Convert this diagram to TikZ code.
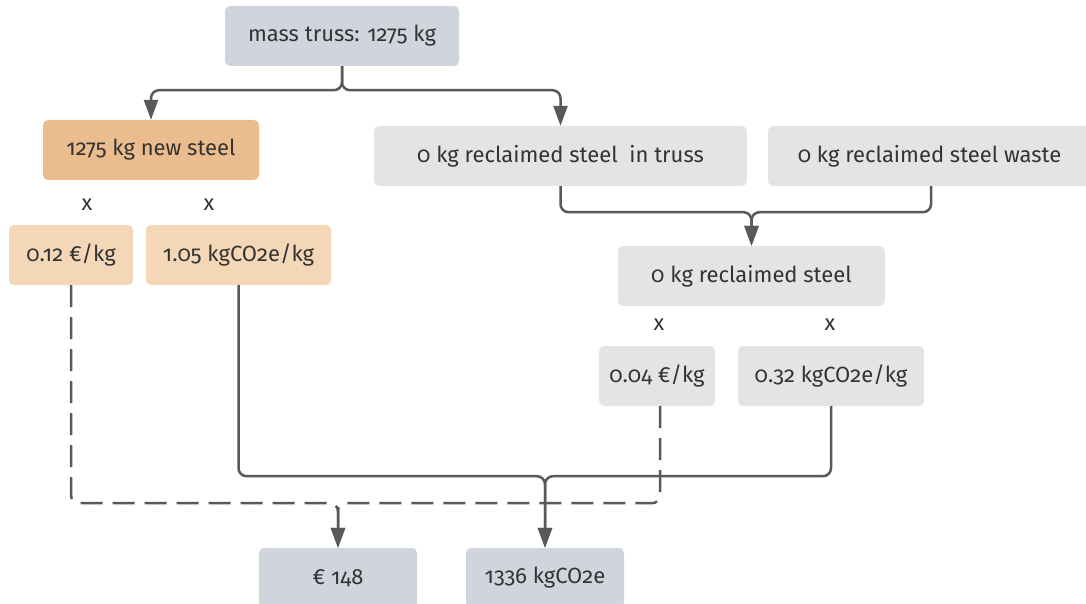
\documentclass[tikz,border=0pt]{standalone}
\usepackage{fontspec}
\setmainfont[Numbers=OldStyle]{Fira Sans}
\usetikzlibrary{arrows.meta}
\definecolor{ink}{HTML}{333333}
\definecolor{linec}{HTML}{595959}
\definecolor{sumfill}{HTML}{D0D5DD}
\definecolor{newfill}{HTML}{EBBC8D}
\definecolor{newrate}{HTML}{F4D7B7}
\definecolor{recfill}{HTML}{E4E4E4}
\begin{document}
\begin{tikzpicture}[x=1pt,y=-1pt,
  box/.style={rounded corners=5pt, minimum height=60pt, inner sep=0pt, text=ink,
              font=\fontsize{22}{26}\selectfont},
  times/.style={text=ink, font=\fontsize{22}{26}\selectfont, inner sep=0pt},
  conn/.style={draw=linec, line width=2.5pt, rounded corners=8pt,
               -{Triangle[length=20pt,width=14pt]}},
  costconn/.style={conn, dash pattern=on 22pt off 10pt}
]
\useasboundingbox (0,0) rectangle (1086,604);

% input mass and its split into new and reclaimed steel
\node[box, fill=sumfill, minimum width=234pt] (mt) at (342,36) {mass truss: 1275 kg};
\node[box, fill=newfill, minimum width=216pt] (ns) at (151,150) {1275 kg new steel};
\node[box, fill=recfill, minimum width=373pt] (rt) at (560.5,156) {0 kg reclaimed steel~ in truss};
\node[box, fill=recfill, minimum width=323pt] (rw) at (929.5,156) {0 kg reclaimed steel waste};
\node[box, fill=recfill, minimum width=267pt] (rs) at (751.5,276) {0 kg reclaimed steel};

% factors for new steel
\node[times] (xa) at (87,205) {x};
\node[times] (xb) at (209,205) {x};
\node[box, fill=newrate, minimum width=124pt] (c1) at (71,255) {0.12 €/kg};
\node[box, fill=newrate, minimum width=185pt] (e1) at (238.5,255) {1.05 kgCO2e/kg};

% factors for reclaimed steel
\node[times] (xc) at (659,325) {x};
\node[times] (xd) at (830,325) {x};
\node[box, fill=recfill, minimum width=116pt] (c2) at (657,376) {0.04 €/kg};
\node[box, fill=recfill, minimum width=186pt] (e2) at (831,376) {0.32 kgCO2e/kg};

% totals
\node[box, fill=sumfill, minimum width=158pt] (cost) at (338,578) {€ 148};
\node[box, fill=sumfill, minimum width=158pt] (co2) at (545,578) {1336 kgCO2e};

% mass flows
\draw[conn] (mt.south) -- ++(0,24) -| (ns.north);
\draw[conn] (mt.south) -- ++(0,24) -| (rt.north);
\draw[conn] (rt.south) -- ++(0,26) -| (rs.north);
\draw[conn] ([xshift=1.5pt]rw.south) -- ++(0,26) -| (rs.north);

% carbon totals
\draw[conn] (e1.south) -- ++(0,191) -| (co2.north);
\draw[conn] (e2.south) -- ++(0,70) -| (co2.north);

% cost totals
\draw[costconn] (c1.south) -- ++(0,218) -| (cost.north);
\draw[costconn] ([xshift=3pt]c2.south) -- ++(0,97) -| (cost.north);
\end{tikzpicture}
\end{document}
